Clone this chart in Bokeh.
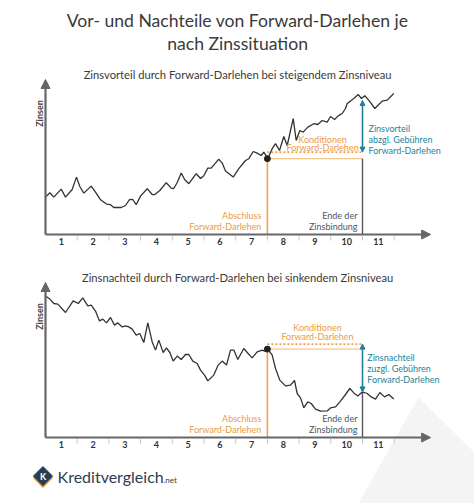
import math
from bokeh.plotting import figure
from bokeh.layouts import column
from bokeh.models import Range1d, Arrow, NormalHead
from bokeh.core.properties import value
from bokeh.embed import file_html
from bokeh.resources import INLINE

# ---------------- data ----------------
years = ["1", "2", "3", "4", "5", "6", "7", "8", "9", "10", "11"]

# rising interest scenario (time in years, interest level)
up_t = [0.000, 0.136, 0.262, 0.495, 0.631, 0.842, 0.978, 1.082, 1.208, 1.442,
        1.577, 1.735, 1.924, 2.050, 2.155, 2.388, 2.524, 2.650, 2.754, 2.861,
        2.997, 3.208, 3.366, 3.438, 3.606, 3.808, 3.965, 4.047, 4.155, 4.281,
        4.394, 4.521, 4.754, 4.890, 4.994, 5.120, 5.227, 5.467, 5.574, 5.678,
        5.921, 6.098, 6.309, 6.413, 6.552, 6.678, 6.804, 6.886, 7.013, 7.151,
        7.256, 7.382, 7.517, 7.625, 7.814, 7.909, 8.022, 8.129, 8.274, 8.464,
        8.590, 8.729, 8.886, 8.991, 9.117, 9.233, 9.360, 9.464, 9.517, 9.621,
        9.726, 9.864, 9.968, 10.073, 10.221, 10.388, 10.514, 10.621, 10.779, 10.987]
up_z = [1.87, 2.09, 1.87, 2.27, 1.87, 2.25, 2.87, 2.40, 2.07, 2.42,
        2.12, 1.74, 1.52, 1.49, 1.35, 1.35, 1.45, 1.74, 1.75, 1.49,
        1.92, 2.29, 2.00, 1.99, 2.20, 2.59, 2.32, 2.30, 2.60, 3.07,
        2.74, 2.54, 3.04, 2.80, 2.94, 3.32, 3.32, 3.77, 3.57, 3.17,
        2.87, 3.29, 3.70, 3.79, 4.15, 4.07, 3.95, 4.12, 3.79, 4.29,
        4.54, 4.20, 4.90, 4.45, 5.79, 4.70, 5.20, 5.12, 5.37, 5.54,
        5.50, 5.70, 5.62, 5.90, 5.75, 5.93, 6.05, 6.30, 6.55, 6.67,
        6.80, 7.00, 6.80, 6.94, 6.67, 6.30, 6.50, 6.67, 6.72, 7.05]

# falling interest scenario
down_t = [0.000, 0.136, 0.262, 0.388, 0.631, 0.874, 1.032, 1.177, 1.334, 1.442,
          1.577, 1.703, 1.808, 1.924, 2.050, 2.177, 2.281, 2.420, 2.524, 2.628,
          2.735, 2.861, 2.975, 3.101, 3.227, 3.366, 3.470, 3.574, 3.713, 3.817,
          3.921, 4.028, 4.155, 4.281, 4.416, 4.521, 4.647, 4.785, 4.890, 5.016,
          5.120, 5.309, 5.448, 5.574, 5.710, 5.836, 5.940, 6.066, 6.256, 6.363,
          6.520, 6.678, 6.836, 6.909, 7.013, 7.151, 7.256, 7.391, 7.571, 7.729,
          7.855, 7.940, 8.044, 8.148, 8.274, 8.382, 8.517, 8.675, 8.886, 8.991,
          9.148, 9.306, 9.464, 9.599, 9.726, 9.852, 9.991, 10.148, 10.274, 10.410,
          10.546, 10.694, 10.830, 10.987]
down_z = [7.08, 6.92, 6.70, 6.67, 6.25, 6.83, 6.70, 6.98, 6.58, 6.62,
          6.32, 5.83, 5.92, 5.73, 6.00, 5.62, 5.73, 5.53, 5.58, 5.53,
          5.42, 5.12, 5.20, 4.75, 5.73, 4.78, 4.37, 4.87, 4.25, 4.48,
          4.25, 3.82, 4.07, 3.90, 4.15, 4.15, 3.82, 3.70, 3.37, 3.12,
          2.83, 3.12, 3.62, 3.82, 3.62, 4.37, 4.37, 3.90, 4.45, 4.25,
          3.98, 4.28, 4.37, 4.32, 4.42, 4.12, 3.45, 2.87, 2.58, 2.62,
          2.85, 2.20, 1.98, 1.48, 1.78, 1.70, 1.42, 1.32, 1.33, 1.48,
          1.53, 1.82, 2.15, 2.45, 2.23, 2.08, 2.28, 2.20, 2.03, 1.92,
          2.25, 2.03, 2.15, 1.92]

T_SIGN = 7.0      # Abschluss Forward-Darlehen
T_END = 10.0      # Ende der Zinsbindung
T_AXIS_END = 12.15
Z_AXIS_END = 7.75

up_sign_z, up_cond_z, up_end_z = 3.79, 4.12, 6.70
down_sign_z, down_cond_z, down_end_z = 4.42, 4.67, 2.28

title_lines = ["Vor- und Nachteile von Forward-Darlehen je", "nach Zinssituation"]
sub_up = "Zinsvorteil durch Forward-Darlehen bei steigendem Zinsniveau"
sub_down = "Zinsnachteil durch Forward-Darlehen bei sinkendem Zinsniveau"
cond_lines = ["Konditionen", "Forward-Darlehen"]
sign_lines = ["Abschluss", "Forward-Darlehen"]
end_lines = ["Ende der", "Zinsbindung"]
up_gain_lines = ["Zinsvorteil", "abzgl. Gebühren", "Forward-Darlehen"]
down_loss_lines = ["Zinsnachteil", "zuzgl. Gebühren", "Forward-Darlehen"]

# faint watermark outline (bottom right)
wm_t = [11.77, 13.6, 13.6, 9.85]
wm_z = [1.97, -0.88, -3.4, -3.4]

# ---------------- style ----------------
FONT = value("Lato")
DARK = "#333333"
AXIS = "#666666"
ORANGE = "#f0a24e"
ORANGE_TXT = "#eb9a45"
TEAL = "#1f8299"
GREY_TXT = "#4d5560"
PX_T = 31.7   # px per year
PX_Z = 20.0   # px per interest unit
W = 474
X0 = 45       # pixel position of the time origin


def make_fig(height, z_lo, z_hi):
    p = figure(width=W, height=height, output_backend="svg", toolbar_location=None,
               x_range=Range1d(-X0 / PX_T, (W - X0) / PX_T), y_range=Range1d(z_lo, z_hi),
               x_axis_location=None, y_axis_location=None, min_border=0,
               background_fill_color="white", border_fill_color="white")
    p.outline_line_color = None
    p.xgrid.visible = False
    p.ygrid.visible = False
    return p


def draw_chart(p, t, z, sign_z, cond_z, end_z, gain_lines, subtitle, sub_z, cond_x, cond_z_text,
               gain_x, gain_z_text):
    # axes
    p.add_layout(Arrow(end=NormalHead(size=9, fill_color=AXIS, line_color=AXIS),
                       x_start=0, y_start=0, x_end=T_AXIS_END, y_end=0,
                       line_color=AXIS, line_width=2.2))
    p.add_layout(Arrow(end=NormalHead(size=9, fill_color=AXIS, line_color=AXIS),
                       x_start=0, y_start=0, x_end=0, y_end=Z_AXIS_END,
                       line_color=AXIS, line_width=2.2))
    ticks = list(range(1, len(years) + 1))
    p.segment(x0=ticks, y0=[-0.08] * len(ticks), x1=ticks, y1=[-0.3] * len(ticks),
              line_color="#c4c4c4", line_width=1)
    p.text(x=[k - 0.5 for k in ticks], y=[-0.36] * len(ticks), text=years,
           text_font=FONT, text_font_style="bold", text_font_size="9px",
           text_color=DARK, text_align="center", text_baseline="middle")
    p.text(x=[-0.19], y=[6.05], text=["Zinsen"], angle=math.pi / 2,
           text_font=FONT, text_font_style="bold", text_font_size="9px",
           text_color="#444444", text_align="center", text_baseline="middle")
    # subtitle
    p.text(x=[6.06], y=[sub_z], text=[subtitle], text_font=FONT, text_font_size="11.2px",
           text_color="#3a3a3a", text_align="center", text_baseline="middle")
    # reference lines
    p.segment(x0=[T_SIGN], y0=[cond_z], x1=[T_END], y1=[cond_z], line_color=ORANGE,
              line_width=1.6, line_dash="2 2")
    p.segment(x0=[T_SIGN], y0=[sign_z], x1=[T_END], y1=[sign_z], line_color=ORANGE,
              line_width=1, line_alpha=0.8)
    p.segment(x0=[T_SIGN], y0=[0], x1=[T_SIGN], y1=[sign_z], line_color=ORANGE, line_width=1.6)
    lower = sign_z if end_z > cond_z else end_z
    p.segment(x0=[T_END], y0=[0], x1=[T_END], y1=[lower], line_color="#555555", line_width=1.4)
    # curve
    p.line(t, z, line_color=DARK, line_width=1.3)
    p.scatter([T_SIGN], [sign_z], size=6, color="#222222")
    # teal double arrow
    p.add_layout(Arrow(start=NormalHead(size=5, fill_color=TEAL, line_color=TEAL),
                       end=NormalHead(size=5, fill_color=TEAL, line_color=TEAL),
                       x_start=T_END, y_start=cond_z, x_end=T_END, y_end=end_z,
                       line_color=TEAL, line_width=1.6))
    # texts
    p.text(x=[cond_x] * 2, y=cond_z_text, text=cond_lines, text_font=FONT,
           text_font_size="9px", text_color=ORANGE_TXT, text_align="center",
           text_baseline="middle")
    p.text(x=[gain_x] * 3, y=gain_z_text, text=gain_lines, text_font=FONT,
           text_font_size="9px", text_color=TEAL, text_align="left", text_baseline="middle")
    p.text(x=[6.81] * 2, y=[0.95, 0.415], text=sign_lines, text_font=FONT,
           text_font_size="9px", text_color=ORANGE_TXT, text_align="right",
           text_baseline="middle")
    p.text(x=[9.84] * 2, y=[0.95, 0.415], text=end_lines, text_font=FONT,
           text_font_size="9px", text_color=GREY_TXT, text_align="right",
           text_baseline="middle")


# top figure (pixel rows 0..258, x-axis at row 234)
p1 = make_fig(258, -24 / PX_Z, 234 / PX_Z)
p1.text(x=[6.06, 6.06], y=[10.7, 9.55], text=title_lines, text_font=FONT,
        text_font_size="17.6px", text_color="#3a3a3a", text_align="center",
        text_baseline="middle")
draw_chart(p1, up_t, up_z, up_sign_z, up_cond_z, up_end_z, up_gain_lines, sub_up, 8.0,
           8.74, [4.735, 4.335], 10.19, [5.3, 4.75, 4.2])

# bottom figure (pixel rows 258..503, x-axis at row 437)
p2 = make_fig(245, -66 / PX_Z, 179 / PX_Z)
p2.patch(wm_t, wm_z, color="#f4f4f4")
draw_chart(p2, down_t, down_z, down_sign_z, down_cond_z, down_end_z, down_loss_lines, sub_down,
           7.98, 8.58, [5.48, 5.03], 10.15, [3.98, 3.45, 2.915])

# logo
p2.scatter([-0.08], [-2.03], marker="square", size=13.5, angle=math.pi / 4, color="#f0a24e")
p2.scatter([-0.08], [-1.93], marker="square", size=13.5, angle=math.pi / 4, color="#263d52")
p2.text(x=[-0.08], y=[-1.93], text=["K"], text_font=FONT, text_font_style="bold",
        text_font_size="9px", text_color="white", text_align="center", text_baseline="middle")
p2.text(x=[0.38], y=[-1.93], text=["Kreditvergleich"], text_font=FONT,
        text_font_size="16px", text_color="#2d3e50", text_align="left", text_baseline="middle")
p2.text(x=[3.72], y=[-2.1], text=[".net"], text_font=FONT,
        text_font_size="8px", text_color="#2d3e50", text_align="left", text_baseline="middle")

layout = column(p1, p2, spacing=0)
open("out.html", "w").write(file_html(layout, INLINE))
